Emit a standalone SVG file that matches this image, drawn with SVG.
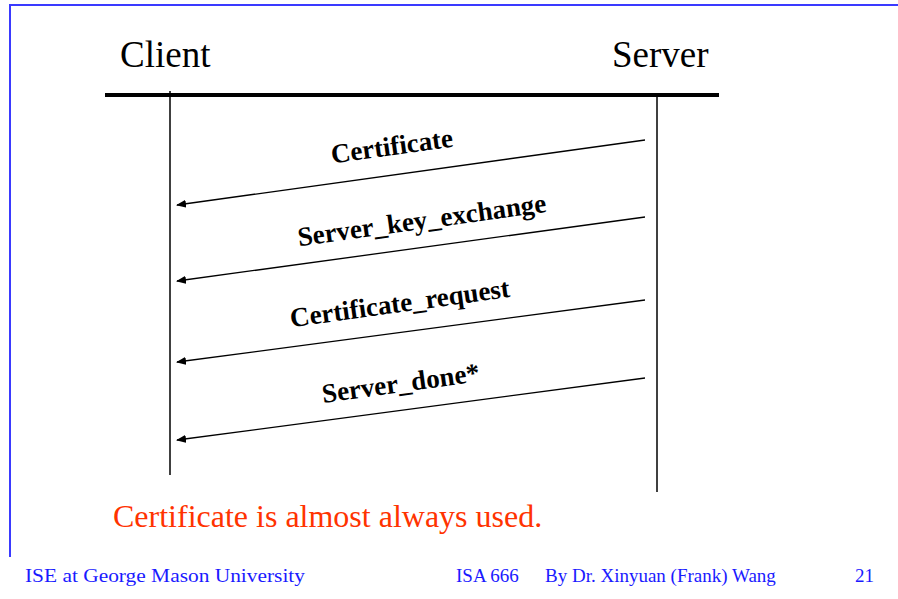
<svg xmlns="http://www.w3.org/2000/svg" width="898" height="599" viewBox="0 0 898 599">
  <style>
    .frame { stroke: #3a3aff; stroke-width: 2; fill: none; }
    text { font-family: 'Liberation Serif', Tinos, 'Times New Roman', Times, serif; }
    .actor { font-size: 37px; fill: #000; }
    .life { stroke: #000; stroke-width: 1.5; fill: none; }
    .msg { stroke: #000; stroke-width: 1.3; fill: none; marker-end: url(#head); }
    .lbl { font-size: 27px; font-weight: bold; fill: #000; text-anchor: middle; }
    .note { font-size: 32px; fill: #ff3300; }
    .foot { font-size: 19px; fill: #1a1aff; }
  </style>
  <defs>
    <marker id="head" viewBox="0 0 10 8" refX="9" refY="4" markerWidth="10" markerHeight="8" markerUnits="userSpaceOnUse" orient="auto">
      <path d="M0,0 L10,4 L0,8 Z" fill="#000"/>
    </marker>
  </defs>

  <rect width="898" height="599" fill="#fff"/>

  <!-- slide frame -->
  <path class="frame" d="M10,557 V5 H898"/>

  <!-- header bar -->
  <line x1="105" y1="95" x2="719" y2="95" stroke="#000" stroke-width="4"/>

  <g id="client">
    <text class="actor" x="120" y="67">Client</text>
    <line class="life" x1="170" y1="91" x2="170" y2="475"/>
  </g>

  <g id="server">
    <text class="actor" x="612" y="67">Server</text>
    <line class="life" x1="657" y1="95" x2="657" y2="492"/>
  </g>

  <g id="connectors">
    <g id="m1">
      <line class="msg" x1="645" y1="140" x2="177" y2="205"/>
      <text class="lbl" transform="translate(393,155) rotate(-7.9)">Certificate</text>
    </g>
    <g id="m2">
      <line class="msg" x1="645" y1="217" x2="177" y2="281"/>
      <text class="lbl" transform="translate(423,229) rotate(-7.9)">Server_key_exchange</text>
    </g>
    <g id="m3">
      <line class="msg" x1="645" y1="300" x2="177" y2="362"/>
      <text class="lbl" transform="translate(401,312) rotate(-7.9)">Certificate_request</text>
    </g>
    <g id="m4">
      <line class="msg" x1="645" y1="378" x2="177" y2="440"/>
      <text class="lbl" transform="translate(402,392) rotate(-7.9)">Server_done*</text>
    </g>
  </g>

  <text class="note" x="113" y="527">Certificate is almost always used.</text>

  <g id="footer">
    <text class="foot" x="25" y="582" textLength="280" lengthAdjust="spacingAndGlyphs">ISE at George Mason University</text>
    <text class="foot" x="456" y="582">ISA 666</text>
    <text class="foot" x="545" y="582">By Dr. Xinyuan (Frank) Wang</text>
    <text class="foot" x="855" y="582">21</text>
  </g>
</svg>
